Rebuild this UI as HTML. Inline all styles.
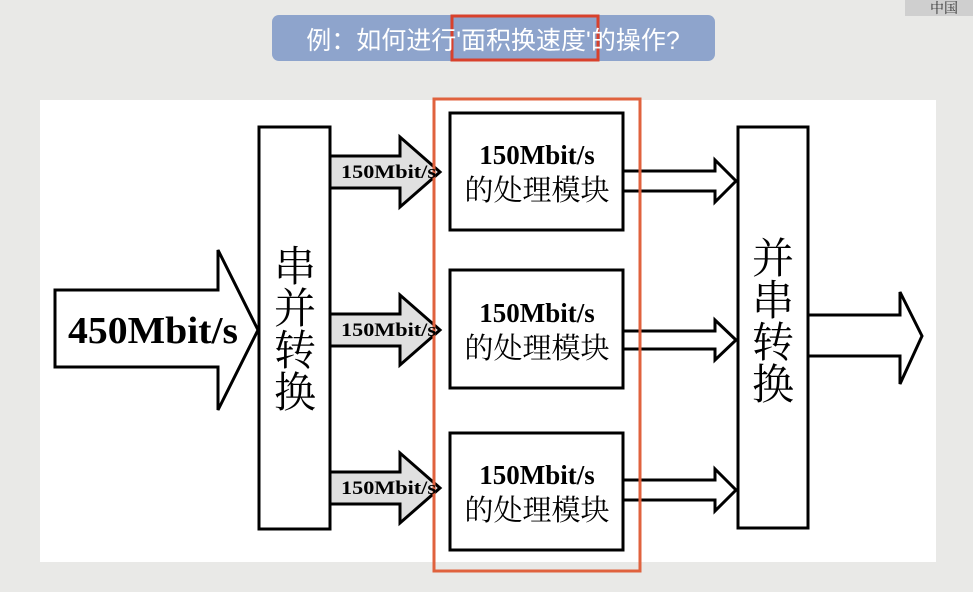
<!DOCTYPE html>
<html><head><meta charset="utf-8"><style>
html,body{margin:0;padding:0;width:973px;height:592px;overflow:hidden;background:#e9e9e7;}
svg{display:block}
.cn{font-family:"Liberation Serif","Noto Serif CJK SC",serif;}
.b{font-family:"Liberation Serif","Noto Serif CJK SC",serif;font-weight:bold;}
</style></head><body>
<svg width="973" height="592" viewBox="0 0 973 592">
<rect x="0" y="0" width="973" height="592" fill="#e9e9e7"/>
<rect x="40" y="100" width="896" height="462" fill="#ffffff"/>
<rect x="272" y="15" width="443" height="46" rx="7" fill="#8ea4cc"/>
<rect x="452" y="16" width="146" height="44" fill="none" stroke="#d8412c" stroke-width="3"/>
<text x="493" y="49" text-anchor="middle" fill="#fff" font-size="25" font-family="'Liberation Sans','Noto Sans CJK SC',sans-serif">例：如何进行'面积换速度'的操作?</text>
<g stroke="#000" stroke-width="3" fill="#fff">
<polygon points="55,290 218,290 218,250 258,330 218,410 218,367 55,367"/>
<rect x="259" y="127" width="71" height="402"/>
<rect x="738" y="127" width="70" height="401"/>
<rect x="450" y="113" width="173" height="117"/>
<rect x="450" y="270" width="173" height="118"/>
<rect x="450" y="433" width="173" height="117"/>
<polygon points="808,315 900,315 900,292 922,336 900,384 900,356 808,356"/>
</g>
<g stroke="#000" stroke-width="3" fill="#e0e0e0">
<polygon points="330,156 400,156 400,137 440,172 400,207 400,188 330,188"/>
<polygon points="330,314 400,314 400,295 440,330 400,365 400,346 330,346"/>
<polygon points="330,472 400,472 400,453 440,488 400,523 400,504 330,504"/>
</g>
<g stroke="#000" stroke-width="3" fill="#fff">
<polygon points="623,171 715,171 715,160 736,181 715,202 715,191 623,191"/>
<polygon points="623,331 715,331 715,320 736,340 715,360 715,349 623,349"/>
<polygon points="623,480 715,480 715,469 736,490 715,511 715,500 623,500"/>
</g>
<rect x="434" y="99" width="206" height="472" fill="none" stroke="#e0623e" stroke-width="3"/>
<text x="153" y="343" class="b" font-size="38" text-anchor="middle" textLength="170" lengthAdjust="spacingAndGlyphs">450Mbit/s</text>
<g class="cn" font-size="42" text-anchor="middle">
<text x="295" y="281">串</text><text x="295" y="323">并</text><text x="295" y="365">转</text><text x="295" y="407">换</text>
<text x="773" y="273">并</text><text x="773" y="315">串</text><text x="773" y="357">转</text><text x="773" y="399">换</text>
</g>
<g class="b" font-size="19">
<text x="341" y="178" textLength="95" lengthAdjust="spacingAndGlyphs">150Mbit/s</text>
<text x="341" y="336" textLength="95" lengthAdjust="spacingAndGlyphs">150Mbit/s</text>
<text x="341" y="494" textLength="95" lengthAdjust="spacingAndGlyphs">150Mbit/s</text>
</g>
<g text-anchor="middle">
<text x="537" y="164" class="b" font-size="27">150Mbit/s</text>
<text x="537" y="200" class="cn" font-size="29">的处理模块</text>
<text x="537" y="322" class="b" font-size="27">150Mbit/s</text>
<text x="537" y="358" class="cn" font-size="29">的处理模块</text>
<text x="537" y="484" class="b" font-size="27">150Mbit/s</text>
<text x="537" y="520" class="cn" font-size="29">的处理模块</text>
</g>
<rect x="905" y="0" width="68" height="16" fill="#cfcfcf"/>
<text x="930" y="13" font-size="14" class="cn" fill="#333">中国</text>
</svg>
</body></html>
